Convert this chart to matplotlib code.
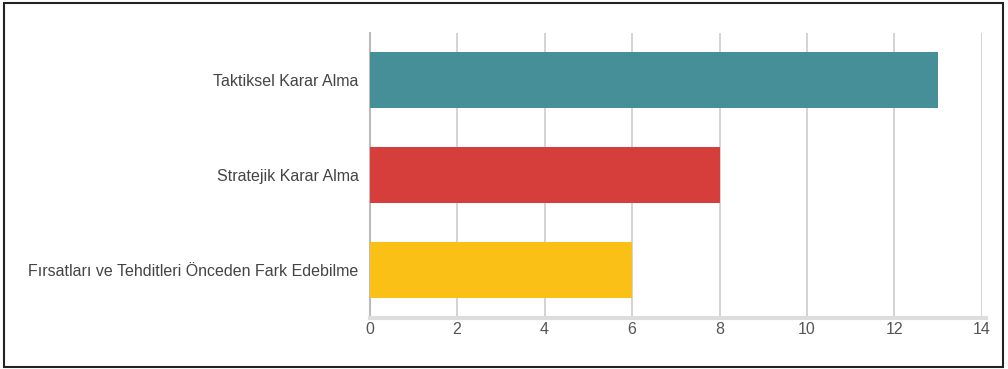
import matplotlib.pyplot as plt
from matplotlib.patches import Rectangle

# Karar alma becerileri - yanit sayilari
kategoriler = ["Taktiksel Karar Alma", "Stratejik Karar Alma",
               "Fırsatları ve Tehditleri Önceden Fark Edebilme"]
degerler = [13, 8, 6]
renkler = ["#468F99", "#D63E3B", "#FBC016"]
x_ticks = [0, 2, 4, 6, 8, 10, 12, 14]

plt.rcParams["font.family"] = ["Liberation Sans", "DejaVu Sans"]

fig = plt.figure(figsize=(10.08, 3.69), dpi=100)
ax = fig.add_axes([369.5 / 1008, 1 - 317.5 / 369, (982 - 369.5) / 1008, 285 / 369])

y = list(range(len(kategoriler)))
ax.barh(y, degerler, height=0.59, color=renkler, zorder=3)
ax.set_ylim(len(kategoriler) - 0.5, -0.5)
ax.set_xlim(0, 14)

ax.set_xticks(x_ticks)
ax.set_yticks(y)
ax.set_yticklabels(kategoriler)
ax.tick_params(axis="y", length=0, pad=8, labelsize=11.5, labelcolor="#444444")
ax.tick_params(axis="x", length=0, pad=3, labelsize=11.5, labelcolor="#555555")
ax.grid(axis="x", color="#CCCCCC", linewidth=1.2, zorder=0)

for lado in ["top", "right"]:
    ax.spines[lado].set_visible(False)
ax.spines["left"].set_color("#BBBBBB")
ax.spines["left"].set_linewidth(1.5)
ax.spines["bottom"].set_color("#DDDDDD")
ax.spines["bottom"].set_linewidth(3)
ax.spines["bottom"].set_bounds(0, 14.1)

# moldura externa
fig.patches.append(Rectangle((4 / 1008, 2 / 369), 999 / 1008, 364 / 369,
                             transform=fig.transFigure, fill=False,
                             edgecolor="#222222", linewidth=1.5))

fig.savefig("out.png", dpi=100)
